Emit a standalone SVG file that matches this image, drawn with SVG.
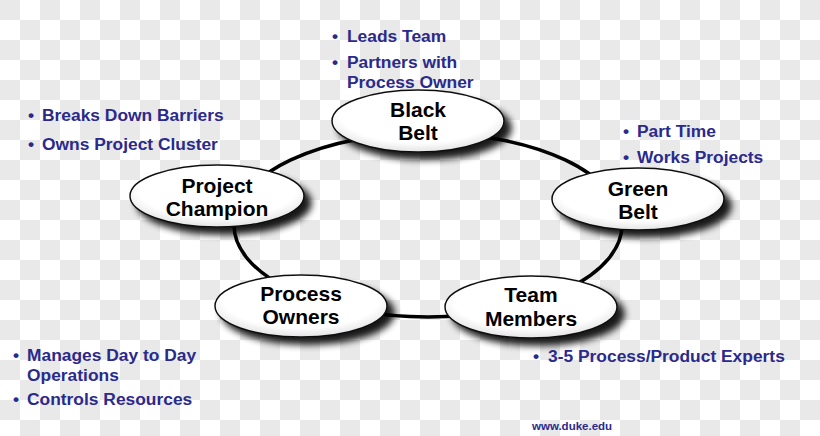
<svg xmlns="http://www.w3.org/2000/svg" width="820" height="436" viewBox="0 0 820 436">
<defs>
<pattern id="checker" x="0" y="0" width="40" height="40" patternUnits="userSpaceOnUse">
<rect width="40" height="40" fill="#ffffff"/>
<rect width="20" height="20" fill="#e9e9e9"/>
<rect x="20" y="20" width="20" height="20" fill="#e9e9e9"/>
</pattern>
<radialGradient id="nodeFill" cx="0.5" cy="0.4" r="0.6">
<stop offset="0" stop-color="#ffffff"/>
<stop offset="0.75" stop-color="#ffffff"/>
<stop offset="1" stop-color="#e4e4e4"/>
</radialGradient>
<filter id="shadow" x="-20%" y="-30%" width="150%" height="180%">
<feGaussianBlur in="SourceAlpha" stdDeviation="3.5"/>
<feOffset dx="7" dy="7" result="b"/>
<feComponentTransfer in="b" result="s"><feFuncA type="linear" slope="0.9"/></feComponentTransfer>
<feMerge><feMergeNode in="s"/><feMergeNode in="SourceGraphic"/></feMerge>
</filter>
</defs>
<style>
.node ellipse{fill:url(#nodeFill);stroke:#111;stroke-width:1.5;filter:url(#shadow)}
.label{font-family:"Liberation Sans",Arial,sans-serif;font-weight:bold;font-size:21px;fill:#000;text-anchor:middle}
.note{font-family:"Liberation Sans",Arial,sans-serif;font-weight:bold;font-size:17.4px;fill:#2b2a8c}
.ring{fill:none;stroke:#000;stroke-width:3.5}
</style>
<rect width="820" height="436" fill="url(#checker)"/>
<g id="connectors">
<ellipse class="ring" cx="428" cy="225" rx="194" ry="92"/>
</g>
<g id="black-belt" class="node">
<ellipse cx="418" cy="121" rx="86" ry="31"/>
<text class="label" x="418" y="117">Black</text>
<text class="label" x="418" y="140">Belt</text>
</g>
<g id="project-champion" class="node">
<ellipse cx="217" cy="196" rx="87" ry="31"/>
<text class="label" x="217" y="193">Project</text>
<text class="label" x="217" y="216">Champion</text>
</g>
<g id="green-belt" class="node">
<ellipse cx="638" cy="199" rx="86" ry="31"/>
<text class="label" x="638" y="196">Green</text>
<text class="label" x="638" y="219">Belt</text>
</g>
<g id="process-owners" class="node">
<ellipse cx="301" cy="306" rx="86" ry="31"/>
<text class="label" x="301" y="301">Process</text>
<text class="label" x="301" y="324">Owners</text>
</g>
<g id="team-members" class="node">
<ellipse cx="531" cy="307" rx="86" ry="31"/>
<text class="label" x="531" y="302">Team</text>
<text class="label" x="531" y="326">Members</text>
</g>
<g id="notes">
<text class="note" x="332" y="42">•</text><text class="note" x="347" y="42">Leads Team</text>
<text class="note" x="332" y="68">•</text><text class="note" x="347" y="68">Partners with</text>
<text class="note" x="347" y="88">Process Owner</text>
<text class="note" x="28" y="121">•</text><text class="note" x="42" y="121">Breaks Down Barriers</text>
<text class="note" x="28" y="150">•</text><text class="note" x="42" y="150">Owns Project Cluster</text>
<text class="note" x="623" y="137">•</text><text class="note" x="637" y="137">Part Time</text>
<text class="note" x="623" y="163">•</text><text class="note" x="637" y="163">Works Projects</text>
<text class="note" x="13" y="361">•</text><text class="note" x="27" y="361">Manages Day to Day</text>
<text class="note" x="27" y="381">Operations</text>
<text class="note" x="13" y="405">•</text><text class="note" x="27" y="405">Controls Resources</text>
<text class="note" x="533" y="362">•</text><text class="note" x="548" y="362">3-5 Process/Product Experts</text>
<text class="note" x="532" y="430" style="font-size:11.5px">www.duke.edu</text>
</g>
</svg>
